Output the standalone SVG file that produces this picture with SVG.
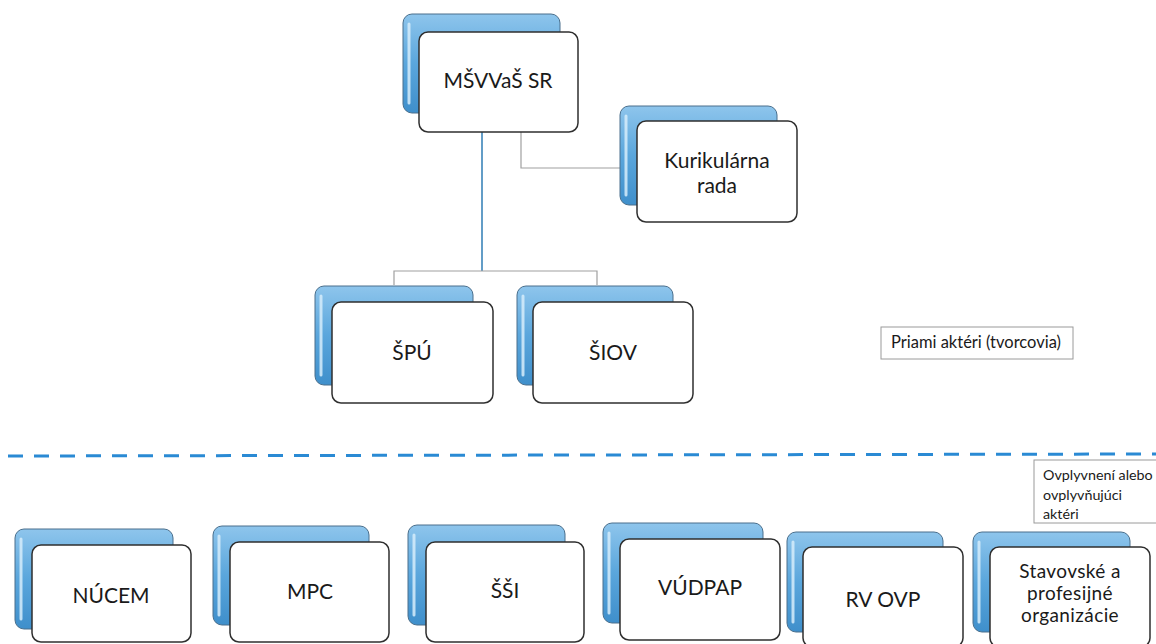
<svg xmlns="http://www.w3.org/2000/svg" width="1156" height="644" viewBox="0 0 1156 644">
<defs>
<linearGradient id="blueg" x1="0" y1="0" x2="0" y2="1">
<stop offset="0" stop-color="#8ec5ec"/>
<stop offset="0.5" stop-color="#5aa6dc"/>
<stop offset="1" stop-color="#3f8fcb"/>
</linearGradient>
<style>
.back{fill:url(#blueg);stroke:#4a6f8c;stroke-width:1}
.hl{fill:none;stroke:#d6ecfa;stroke-width:3;stroke-linecap:round;opacity:0.85}
.front{fill:#ffffff;stroke:#2f2f2f;stroke-width:1.5}
.lbl{font-family:Lato,"Open Sans","Liberation Sans",sans-serif;font-size:21px;fill:#1a1a1a;text-anchor:middle}
.lbl3{font-size:19px}
.leg{fill:#ffffff;stroke:#9a9a9a;stroke-width:1}
.legt{font-family:Lato,"Open Sans","Liberation Sans",sans-serif;fill:#1a1a1a}
.c-main{fill:none;stroke:#2f7db5;stroke-width:1.5}
.c-sub{fill:none;stroke:#a0a0a0;stroke-width:1.2}
.dash{fill:none;stroke:#2a8ad4;stroke-width:3;stroke-dasharray:15 11}
</style>
</defs>
<rect width="1156" height="644" fill="#ffffff"/>

<g id="connectors">
<path class="c-main" d="M482 132 V271"/>
<path class="c-sub" d="M394 285 V271 H597 V285"/>
<path class="c-sub" d="M521 132 V168 H620"/>
</g>

<path class="dash" d="M8 456 L1156 454"/>

<g id="n-msvvas">
<rect class="back" x="403" y="14" width="157" height="99" rx="9"/>
<path class="hl" d="M409 24 V103"/>
<rect class="front" x="419" y="32" width="159" height="100" rx="9"/>
<text class="lbl" x="498" y="88">MŠVVaŠ SR</text>
</g>

<g id="n-kurikularna">
<rect class="back" x="620" y="106" width="157" height="99" rx="9"/>
<path class="hl" d="M626 116 V195"/>
<rect class="front" x="637" y="121" width="160" height="101" rx="9"/>
<text class="lbl" x="717" y="168">Kurikulárna</text>
<text class="lbl" x="717" y="193">rada</text>
</g>

<g id="n-spu">
<rect class="back" x="315" y="286" width="158" height="99" rx="9"/>
<path class="hl" d="M321 296 V375"/>
<rect class="front" x="332" y="302" width="161" height="101" rx="9"/>
<text class="lbl" x="412" y="360">ŠPÚ</text>
</g>

<g id="n-siov">
<rect class="back" x="517" y="286" width="156" height="99" rx="9"/>
<path class="hl" d="M523 296 V375"/>
<rect class="front" x="533" y="302" width="160" height="101" rx="9"/>
<text class="lbl" x="613" y="360">ŠIOV</text>
</g>

<g id="legend-priami">
<rect class="leg" x="881" y="327" width="192" height="32"/>
<text class="legt" x="891" y="348" font-size="16.5">Priami aktéri (tvorcovia)</text>
</g>

<g id="legend-ovplyvneni">
<rect class="leg" x="1034" y="460" width="130" height="63"/>
<text class="legt" x="1043" y="480" font-size="14.3">Ovplyvnení alebo</text>
<text class="legt" x="1043" y="500" font-size="14.3">ovplyvňujúci</text>
<text class="legt" x="1043" y="519" font-size="14.3">aktéri</text>
</g>

<g id="n-nucem">
<rect class="back" x="15" y="529" width="158" height="100" rx="9"/>
<path class="hl" d="M21 539 V619"/>
<rect class="front" x="32" y="545" width="159" height="97" rx="9"/>
<text class="lbl" x="111" y="603">NÚCEM</text>
</g>

<g id="n-mpc">
<rect class="back" x="213" y="526" width="156" height="99" rx="9"/>
<path class="hl" d="M219 536 V615"/>
<rect class="front" x="230" y="542" width="159" height="100" rx="9"/>
<text class="lbl" x="310" y="599">MPC</text>
</g>

<g id="n-ssi">
<rect class="back" x="408" y="525" width="157" height="100" rx="9"/>
<path class="hl" d="M414 535 V615"/>
<rect class="front" x="426" y="542" width="158" height="100" rx="9"/>
<text class="lbl" x="505" y="598">ŠŠI</text>
</g>

<g id="n-vudpap">
<rect class="back" x="603" y="523" width="160" height="100" rx="9"/>
<path class="hl" d="M609 533 V613"/>
<rect class="front" x="620" y="539" width="160" height="101" rx="9"/>
<text class="lbl" x="700" y="595">VÚDPAP</text>
</g>

<g id="n-rvovp">
<rect class="back" x="787" y="532" width="156" height="100" rx="9"/>
<path class="hl" d="M793 542 V622"/>
<rect class="front" x="803" y="547" width="160" height="100" rx="9"/>
<text class="lbl" x="883" y="607">RV OVP</text>
</g>

<g id="n-stavovske">
<rect class="back" x="973" y="532" width="157" height="100" rx="9"/>
<path class="hl" d="M979 542 V622"/>
<rect class="front" x="990" y="547" width="160" height="100" rx="9"/>
<text class="lbl lbl3" x="1070" y="578" letter-spacing="0.4">Stavovské a</text>
<text class="lbl lbl3" x="1070" y="600" letter-spacing="0.4">profesijné</text>
<text class="lbl lbl3" x="1070" y="622" letter-spacing="0.4">organizácie</text>
</g>
</svg>
